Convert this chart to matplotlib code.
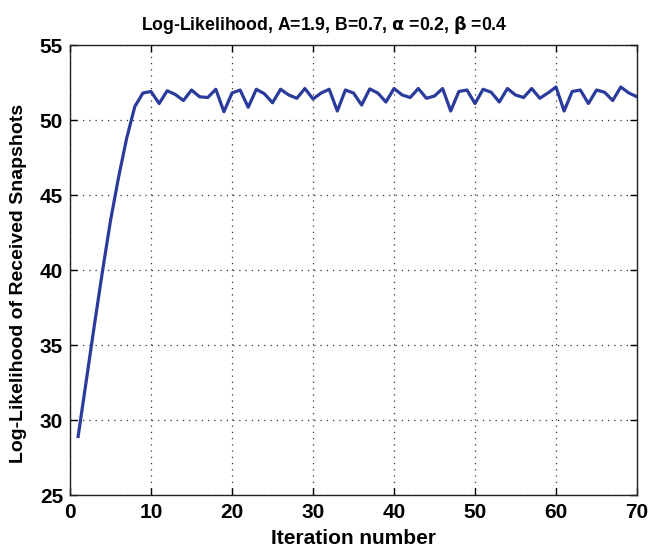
import numpy as np
import matplotlib
matplotlib.use("Agg")
import matplotlib.pyplot as plt

plt.rcParams['font.family'] = ['Liberation Sans', 'DejaVu Sans']
plt.rcParams['font.weight'] = 'bold'

# log-likelihood per iteration
iterations = np.arange(1, 71)
loglik = [28.9, 32.6, 36.3, 39.9, 43.3, 46.2, 48.8, 50.9, 51.8, 51.9,
          51.1, 51.95, 51.7, 51.3, 52.0, 51.55, 51.5, 52.05, 50.55, 51.8,
          52.0, 50.85, 52.05, 51.75, 51.15, 52.05, 51.67, 51.45, 52.1, 51.4,
          51.8, 52.05, 50.6, 52.0, 51.8, 51.0, 52.07, 51.8, 51.2, 52.1,
          51.67, 51.5, 52.1, 51.45, 51.6, 52.1, 50.6, 51.9, 52.0, 51.1,
          52.05, 51.85, 51.2, 52.1, 51.67, 51.5, 52.1, 51.45, 51.8, 52.2,
          50.6, 51.9, 52.0, 51.1, 52.0, 51.85, 51.3, 52.2, 51.8, 51.55]

xticks = [0, 10, 20, 30, 40, 50, 60, 70]
yticks = [25, 30, 35, 40, 45, 50, 55]

fig = plt.figure(figsize=(6.52, 5.51), dpi=100)
ax = fig.add_axes([0.1074, 0.1016, 0.8696, 0.8167])

ax.plot(iterations, loglik, color='#2a3b9c', lw=2.3)

ax.set_xlim(0, 70)
ax.set_ylim(25, 55)
ax.set_xticks(xticks)
ax.set_yticks(yticks)
ax.grid(True, linestyle=(0, (1, 4)), color='#333333', linewidth=0.9)
ax.tick_params(direction='in', top=True, right=True, labelsize=15, length=5, width=1)
ax.tick_params(axis='x', pad=6)
ax.tick_params(axis='y', pad=5)
for lbl in ax.get_xticklabels() + ax.get_yticklabels():
    lbl.set_fontweight('bold')
for s in ax.spines.values():
    s.set_linewidth(1.0)
    s.set_color('#222222')

ax.set_xlabel('Iteration number', fontsize=15, fontweight='bold')
ax.set_ylabel('Log-Likelihood of Received Snapshots', fontsize=14, fontweight='bold')
ax.xaxis.set_label_coords(0.5, -0.075)
ax.yaxis.set_label_coords(-0.076, 0.47)
ax.set_title(r'Log-Likelihood, A=1.9, B=0.7, $\mathbf{\alpha}$ =0.2, $\mathbf{\beta}$ =0.4',
             fontsize=12.7, fontweight='bold', x=0.448, pad=11)

fig.savefig('out.png', dpi=100)
